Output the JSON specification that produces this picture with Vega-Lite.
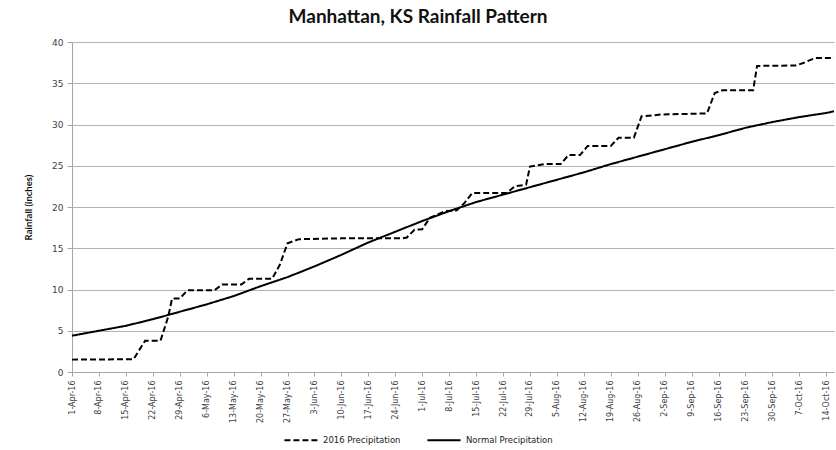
{
  "$schema": "https://vega.github.io/schema/vega-lite/v6.json",
  "autosize": {"type": "none"},
  "padding": {"left": 72, "top": 42, "right": 2, "bottom": 78},
  "width": 762,
  "height": 330,
  "background": "white",
  "title": {
    "text": "Manhattan, KS Rainfall Pattern",
    "font": "Lato",
    "fontWeight": "bold",
    "fontSize": 19,
    "color": "#111111",
    "anchor": "middle",
    "dx": -35,
    "offset": 11
  },
  "config": {
    "view": {"stroke": null},
    "axis": {
      "labelFont": "DejaVu Sans",
      "labelColor": "#404040",
      "domainColor": "#a6a6a6",
      "tickColor": "#a6a6a6",
      "gridColor": "#b3b3b3"
    }
  },
  "datasets": {
    "rain": [
      {"date": "2016-04-01", "series": "2016 Precipitation", "value": 1.5},
      {"date": "2016-04-17", "series": "2016 Precipitation", "value": 1.55},
      {"date": "2016-04-20", "series": "2016 Precipitation", "value": 3.8},
      {"date": "2016-04-24", "series": "2016 Precipitation", "value": 3.8},
      {"date": "2016-04-26", "series": "2016 Precipitation", "value": 6.7},
      {"date": "2016-04-27", "series": "2016 Precipitation", "value": 8.9},
      {"date": "2016-04-29", "series": "2016 Precipitation", "value": 8.9},
      {"date": "2016-05-01", "series": "2016 Precipitation", "value": 9.9},
      {"date": "2016-05-08", "series": "2016 Precipitation", "value": 9.9},
      {"date": "2016-05-10", "series": "2016 Precipitation", "value": 10.6},
      {"date": "2016-05-15", "series": "2016 Precipitation", "value": 10.6},
      {"date": "2016-05-17", "series": "2016 Precipitation", "value": 11.3},
      {"date": "2016-05-23", "series": "2016 Precipitation", "value": 11.3},
      {"date": "2016-05-25", "series": "2016 Precipitation", "value": 13.0},
      {"date": "2016-05-27", "series": "2016 Precipitation", "value": 15.6},
      {"date": "2016-05-30", "series": "2016 Precipitation", "value": 16.1},
      {"date": "2016-06-10", "series": "2016 Precipitation", "value": 16.2},
      {"date": "2016-06-26", "series": "2016 Precipitation", "value": 16.2},
      {"date": "2016-06-27", "series": "2016 Precipitation", "value": 16.3},
      {"date": "2016-06-29", "series": "2016 Precipitation", "value": 17.25},
      {"date": "2016-07-01", "series": "2016 Precipitation", "value": 17.3},
      {"date": "2016-07-03", "series": "2016 Precipitation", "value": 18.7},
      {"date": "2016-07-07", "series": "2016 Precipitation", "value": 19.5},
      {"date": "2016-07-10", "series": "2016 Precipitation", "value": 19.6},
      {"date": "2016-07-12", "series": "2016 Precipitation", "value": 20.5},
      {"date": "2016-07-14", "series": "2016 Precipitation", "value": 21.7},
      {"date": "2016-07-23", "series": "2016 Precipitation", "value": 21.7},
      {"date": "2016-07-25", "series": "2016 Precipitation", "value": 22.5},
      {"date": "2016-07-28", "series": "2016 Precipitation", "value": 22.7},
      {"date": "2016-07-29", "series": "2016 Precipitation", "value": 24.9},
      {"date": "2016-08-02", "series": "2016 Precipitation", "value": 25.2},
      {"date": "2016-08-06", "series": "2016 Precipitation", "value": 25.2},
      {"date": "2016-08-08", "series": "2016 Precipitation", "value": 26.3},
      {"date": "2016-08-11", "series": "2016 Precipitation", "value": 26.3},
      {"date": "2016-08-13", "series": "2016 Precipitation", "value": 27.4},
      {"date": "2016-08-19", "series": "2016 Precipitation", "value": 27.4},
      {"date": "2016-08-21", "series": "2016 Precipitation", "value": 28.4},
      {"date": "2016-08-25", "series": "2016 Precipitation", "value": 28.4},
      {"date": "2016-08-27", "series": "2016 Precipitation", "value": 31.0},
      {"date": "2016-09-01", "series": "2016 Precipitation", "value": 31.2},
      {"date": "2016-09-13", "series": "2016 Precipitation", "value": 31.35},
      {"date": "2016-09-15", "series": "2016 Precipitation", "value": 33.8},
      {"date": "2016-09-17", "series": "2016 Precipitation", "value": 34.15},
      {"date": "2016-09-25", "series": "2016 Precipitation", "value": 34.15},
      {"date": "2016-09-26", "series": "2016 Precipitation", "value": 37.1},
      {"date": "2016-10-06", "series": "2016 Precipitation", "value": 37.15},
      {"date": "2016-10-08", "series": "2016 Precipitation", "value": 37.45},
      {"date": "2016-10-11", "series": "2016 Precipitation", "value": 38.05},
      {"date": "2016-10-16", "series": "2016 Precipitation", "value": 38.05},
      {"date": "2016-04-01", "series": "Normal  Precipitation", "value": 4.4},
      {"date": "2016-04-08", "series": "Normal  Precipitation", "value": 5.0},
      {"date": "2016-04-15", "series": "Normal  Precipitation", "value": 5.6},
      {"date": "2016-04-22", "series": "Normal  Precipitation", "value": 6.4},
      {"date": "2016-04-29", "series": "Normal  Precipitation", "value": 7.3},
      {"date": "2016-05-06", "series": "Normal  Precipitation", "value": 8.2},
      {"date": "2016-05-13", "series": "Normal  Precipitation", "value": 9.2},
      {"date": "2016-05-20", "series": "Normal  Precipitation", "value": 10.4},
      {"date": "2016-05-27", "series": "Normal  Precipitation", "value": 11.5},
      {"date": "2016-06-03", "series": "Normal  Precipitation", "value": 12.8},
      {"date": "2016-06-10", "series": "Normal  Precipitation", "value": 14.2},
      {"date": "2016-06-17", "series": "Normal  Precipitation", "value": 15.7},
      {"date": "2016-06-24", "series": "Normal  Precipitation", "value": 17.0},
      {"date": "2016-07-01", "series": "Normal  Precipitation", "value": 18.3},
      {"date": "2016-07-08", "series": "Normal  Precipitation", "value": 19.5},
      {"date": "2016-07-15", "series": "Normal  Precipitation", "value": 20.6},
      {"date": "2016-07-22", "series": "Normal  Precipitation", "value": 21.5},
      {"date": "2016-07-29", "series": "Normal  Precipitation", "value": 22.4},
      {"date": "2016-08-05", "series": "Normal  Precipitation", "value": 23.3},
      {"date": "2016-08-12", "series": "Normal  Precipitation", "value": 24.2},
      {"date": "2016-08-19", "series": "Normal  Precipitation", "value": 25.2},
      {"date": "2016-08-26", "series": "Normal  Precipitation", "value": 26.1},
      {"date": "2016-09-02", "series": "Normal  Precipitation", "value": 27.0},
      {"date": "2016-09-09", "series": "Normal  Precipitation", "value": 27.9},
      {"date": "2016-09-16", "series": "Normal  Precipitation", "value": 28.7},
      {"date": "2016-09-23", "series": "Normal  Precipitation", "value": 29.6},
      {"date": "2016-09-30", "series": "Normal  Precipitation", "value": 30.3},
      {"date": "2016-10-07", "series": "Normal  Precipitation", "value": 30.9},
      {"date": "2016-10-14", "series": "Normal  Precipitation", "value": 31.4},
      {"date": "2016-10-16", "series": "Normal  Precipitation", "value": 31.6}
    ]
  },
  "data": {"name": "rain"},
  "mark": {"type": "line", "strokeWidth": 2, "color": "black"},
  "encoding": {
    "x": {
      "field": "date",
      "type": "temporal",
      "scale": {
        "type": "utc",
        "domain": [
          {"year": 2016, "month": 4, "date": 1, "utc": true},
          {"year": 2016, "month": 10, "date": 16, "utc": true}
        ]
      },
      "axis": {
        "title": null,
        "grid": false,
        "format": "%-d-%b-%y",
        "labelAngle": 270,
        "labelFontSize": 8,
        "labelPadding": 4,
        "tickSize": 4,
        "labelOverlap": false,
        "values": [
          {"year": 2016, "month": 4, "date": 1, "utc": true},
          {"year": 2016, "month": 4, "date": 8, "utc": true},
          {"year": 2016, "month": 4, "date": 15, "utc": true},
          {"year": 2016, "month": 4, "date": 22, "utc": true},
          {"year": 2016, "month": 4, "date": 29, "utc": true},
          {"year": 2016, "month": 5, "date": 6, "utc": true},
          {"year": 2016, "month": 5, "date": 13, "utc": true},
          {"year": 2016, "month": 5, "date": 20, "utc": true},
          {"year": 2016, "month": 5, "date": 27, "utc": true},
          {"year": 2016, "month": 6, "date": 3, "utc": true},
          {"year": 2016, "month": 6, "date": 10, "utc": true},
          {"year": 2016, "month": 6, "date": 17, "utc": true},
          {"year": 2016, "month": 6, "date": 24, "utc": true},
          {"year": 2016, "month": 7, "date": 1, "utc": true},
          {"year": 2016, "month": 7, "date": 8, "utc": true},
          {"year": 2016, "month": 7, "date": 15, "utc": true},
          {"year": 2016, "month": 7, "date": 22, "utc": true},
          {"year": 2016, "month": 7, "date": 29, "utc": true},
          {"year": 2016, "month": 8, "date": 5, "utc": true},
          {"year": 2016, "month": 8, "date": 12, "utc": true},
          {"year": 2016, "month": 8, "date": 19, "utc": true},
          {"year": 2016, "month": 8, "date": 26, "utc": true},
          {"year": 2016, "month": 9, "date": 2, "utc": true},
          {"year": 2016, "month": 9, "date": 9, "utc": true},
          {"year": 2016, "month": 9, "date": 16, "utc": true},
          {"year": 2016, "month": 9, "date": 23, "utc": true},
          {"year": 2016, "month": 9, "date": 30, "utc": true},
          {"year": 2016, "month": 10, "date": 7, "utc": true},
          {"year": 2016, "month": 10, "date": 14, "utc": true}
        ]
      }
    },
    "y": {
      "field": "value",
      "type": "quantitative",
      "scale": {"domain": [0, 40], "nice": false},
      "axis": {
        "title": "Rainfall (inches)",
        "titleFont": "Lato",
        "titleFontWeight": "bold",
        "titleFontSize": 9.5,
        "titleColor": "#111111",
        "titleX": -39,
        "titleY": 165,
        "values": [0, 5, 10, 15, 20, 25, 30, 35, 40],
        "labelFontSize": 9,
        "labelPadding": 4,
        "tickSize": 5,
        "grid": true
      }
    },
    "strokeDash": {
      "field": "series",
      "type": "nominal",
      "scale": {
        "domain": ["2016 Precipitation", "Normal  Precipitation"],
        "range": [[6, 3], [1, 0]]
      },
      "legend": {
        "title": null,
        "orient": "none",
        "direction": "horizontal",
        "legendX": 211,
        "legendY": 380,
        "symbolType": "stroke",
        "symbolSize": 1100,
        "symbolStrokeWidth": 2,
        "symbolStrokeColor": "black",
        "labelFont": "DejaVu Sans",
        "labelFontSize": 8.5,
        "labelColor": "#222222",
        "labelOffset": 4,
        "columnPadding": 22
      }
    }
  }
}
